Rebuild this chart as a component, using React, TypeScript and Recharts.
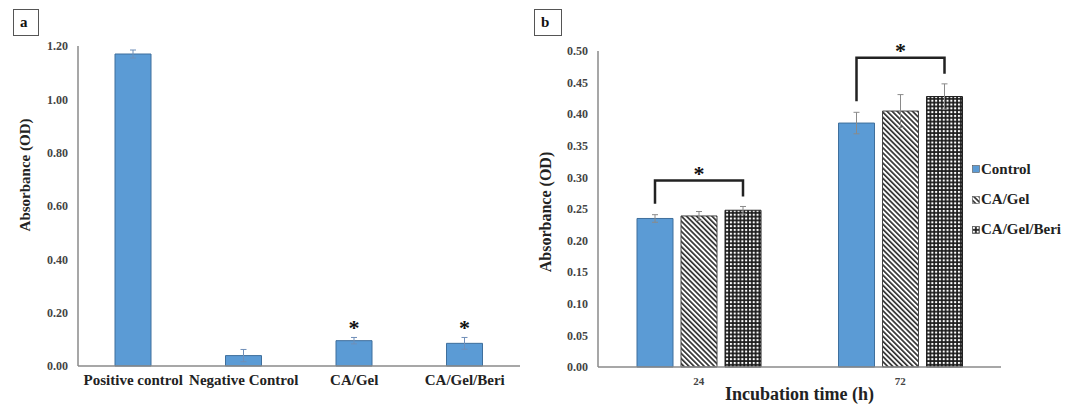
import { BarChart, Bar, XAxis, YAxis, ErrorBar, LabelList, Legend } from 'recharts';

// panel a
const groupsA = ['Positive control', 'Negative Control', 'CA/Gel', 'CA/Gel/Beri'];
const valuesA = [1.17, 0.039, 0.095, 0.085];
const errorsA = [0.015, 0.023, 0.012, 0.022];
const sigA = [false, false, true, true];
const ticksA = [0, 0.2, 0.4, 0.6, 0.8, 1.0, 1.2];

// panel b
const timesB = ['24', '72'];
const seriesB = ['Control', 'CA/Gel', 'CA/Gel/Beri'];
const controlB = [0.235, 0.386];
const caGelB = [0.239, 0.405];
const beriB = [0.248, 0.428];
const controlErrB = [0.006, 0.017];
const caGelErrB = [0.007, 0.026];
const beriErrB = [0.006, 0.02];
const sigB = [true, true];
const ticksB = [0, 0.05, 0.1, 0.15, 0.2, 0.25, 0.3, 0.35, 0.4, 0.45, 0.5];

const SERIF = "'Liberation Serif', 'Times New Roman', serif";
const BLUE = '#5b9bd5';
const BLUE_EDGE = '#3f6f9c';
const AXIS = '#8a8a8a';
const BAR_W = 36;
const BAR_GAP = 8;

const tickStyle = { fontSize: 12, fontWeight: 700, fill: '#444', fontFamily: SERIF };
const titleStyle = { fontSize: 15, fontWeight: 700, fill: '#222', fontFamily: SERIF };

const dataA = groupsA.map((name, i) => ({ name, value: valuesA[i], err: errorsA[i] }));
const dataB = timesB.map((time, i) => ({
  time,
  control: controlB[i],
  controlErr: controlErrB[i],
  caGel: caGelB[i],
  caGelErr: caGelErrB[i],
  beri: beriB[i],
  beriErr: beriErrB[i],
}));

function StarA(props: any) {
  const i = props.index;
  if (!sigA[i]) return null;
  const vb = props.viewBox || props;
  const { x, y, width, height } = vb;
  const k = height / valuesA[i];
  const errTop = y - errorsA[i] * k;
  return (
    <text x={x + width / 2} y={errTop - 12 + 10} textAnchor="middle" style={{ fontSize: 22, fontWeight: 700, fontFamily: SERIF, fill: '#111' }}>
      *
    </text>
  );
}

function BracketB(props: any) {
  const i = props.index;
  if (!sigB[i]) return null;
  const vb = props.viewBox || props;
  const { x, y, width, height } = vb;
  const k = height / caGelB[i];
  const base = y + height;
  const toY = (v: number) => base - v * k;
  const cx = x + width / 2;
  const lx = cx - (BAR_W + BAR_GAP);
  const rx = cx + (BAR_W + BAR_GAP);
  const leftEnd = toY(controlB[i] + controlErrB[i]) - 11;
  const rightEnd = toY(beriB[i] + beriErrB[i]) - 10;
  const highest = Math.max(controlB[i] + controlErrB[i], caGelB[i] + caGelErrB[i], beriB[i] + beriErrB[i]);
  const top = toY(highest) - 26;
  return (
    <g>
      <polyline points={`${lx},${leftEnd} ${lx},${top} ${rx},${top} ${rx},${rightEnd}`} fill="none" stroke="#222" strokeWidth={2.5} />
      <text x={cx} y={top - 9.5 + 10} textAnchor="middle" style={{ fontSize: 22, fontWeight: 700, fontFamily: SERIF, fill: '#111' }}>
        *
      </text>
    </g>
  );
}

function LegendB(props: any) {
  const items = [...(props.payload || [])].sort((a: any, b: any) => seriesB.indexOf(a.value) - seriesB.indexOf(b.value));
  return (
    <div style={{ fontFamily: SERIF }}>
      {items.map((it: any) => (
        <div key={it.value} style={{ display: 'flex', alignItems: 'center', height: 30.4 }}>
          <svg width={8} height={8} style={{ display: 'block' }}>
            <rect x={0.5} y={0.5} width={7} height={7} fill={it.color} stroke="#555" strokeWidth={0.6} />
          </svg>
          <span style={{ marginLeft: 1, fontSize: 15, fontWeight: 700, color: '#222' }}>{it.value}</span>
        </div>
      ))}
    </div>
  );
}

const boxStyle: any = {
  position: 'absolute',
  width: 26,
  height: 27,
  border: '1px solid #555',
  fontFamily: SERIF,
  fontWeight: 700,
  fontSize: 15,
  lineHeight: '25px',
  paddingLeft: 6,
  boxSizing: 'border-box',
  color: '#111',
};

export default function App() {
  return (
    <div style={{ position: 'absolute', left: 0, top: 0, width: 1077, height: 404, background: '#fff', overflow: 'hidden' }}>
      <div style={{ ...boxStyle, left: 13, top: 9 }}>a</div>
      <div style={{ ...boxStyle, left: 534, top: 9, width: 28 }}>b</div>

      <div style={{ position: 'absolute', left: 0, top: 0 }}>
        <BarChart width={530} height={404} data={dataA} margin={{ top: 46, right: 10, bottom: 8, left: 28 }}>
          <XAxis
            dataKey="name"
            interval={0}
            height={30}
            tickLine={false}
            axisLine={{ stroke: AXIS, strokeWidth: 1.5 }}
            tick={{ fontSize: 15, fontWeight: 700, fill: '#222', fontFamily: SERIF }}
          />
          <YAxis
            domain={[0, 1.2]}
            ticks={ticksA}
            tickFormatter={(v: number) => v.toFixed(2)}
            width={50}
            tickLine={false}
            tickMargin={4}
            axisLine={{ stroke: AXIS, strokeWidth: 1.5 }}
            tick={tickStyle}
            label={() => (
              <text x={25} y={175} transform="rotate(-90 25 175)" textAnchor="middle" dominantBaseline="central" style={titleStyle}>
                Absorbance (OD)
              </text>
            )}
          />
          <Bar dataKey="value" fill={BLUE} stroke={BLUE_EDGE} strokeWidth={1} barSize={BAR_W} isAnimationActive={false}>
            <ErrorBar dataKey="err" width={3} stroke="#6f8fb8" strokeWidth={1} direction="y" />
            <LabelList dataKey="value" content={StarA} />
          </Bar>
        </BarChart>
      </div>

      <div style={{ position: 'absolute', left: 520, top: 0 }}>
        <BarChart width={557} height={404} data={dataB} margin={{ top: 51, right: 76, bottom: 0, left: 28 }} barGap={BAR_GAP}>
          <defs>
            <pattern id="hatchB" width={3.6} height={3.6} patternUnits="userSpaceOnUse" patternTransform="rotate(-45)">
              <rect width={3.6} height={3.6} fill="#fff" />
              <rect width={1.7} height={3.6} fill="#333" />
            </pattern>
            <pattern id="gridB" width={3.8} height={3.8} patternUnits="userSpaceOnUse">
              <rect width={3.8} height={3.8} fill="#1a1a1a" />
              <rect x={0.9} y={0.9} width={2.1} height={2.1} fill="#fff" />
            </pattern>
          </defs>
          <XAxis
            dataKey="time"
            height={37}
            tickLine={false}
            tickMargin={4}
            axisLine={{ stroke: AXIS, strokeWidth: 1.5 }}
            tick={{ fontSize: 11, fontWeight: 700, fill: '#444', fontFamily: SERIF }}
            label={{ value: 'Incubation time (h)', position: 'insideBottom', offset: 4, style: { fontSize: 18, fontWeight: 700, fill: '#222', fontFamily: SERIF } }}
          />
          <YAxis
            domain={[0, 0.5]}
            ticks={ticksB}
            tickFormatter={(v: number) => v.toFixed(2)}
            width={50}
            tickLine={false}
            tickMargin={4}
            axisLine={{ stroke: AXIS, strokeWidth: 1.5 }}
            tick={tickStyle}
            label={() => (
              <text x={25} y={212} transform="rotate(-90 25 212)" textAnchor="middle" dominantBaseline="central" style={{ ...titleStyle, fontSize: 16 }}>
                Absorbance (OD)
              </text>
            )}
          />
          <Bar dataKey="control" name={seriesB[0]} fill={BLUE} stroke={BLUE_EDGE} strokeWidth={1} barSize={BAR_W} isAnimationActive={false}>
            <ErrorBar dataKey="controlErr" width={3} stroke="#8a8a8a" strokeWidth={1} direction="y" />
          </Bar>
          <Bar dataKey="caGel" name={seriesB[1]} fill="url(#hatchB)" stroke="#444" strokeWidth={1} barSize={BAR_W} isAnimationActive={false}>
            <ErrorBar dataKey="caGelErr" width={3} stroke="#8a8a8a" strokeWidth={1} direction="y" />
            <LabelList dataKey="caGel" content={BracketB} />
          </Bar>
          <Bar dataKey="beri" name={seriesB[2]} fill="url(#gridB)" stroke="#222" strokeWidth={1} barSize={BAR_W} isAnimationActive={false}>
            <ErrorBar dataKey="beriErr" width={3} stroke="#8a8a8a" strokeWidth={1} direction="y" />
          </Bar>
          <Legend
            layout="vertical"
            align="center"
            verticalAlign="middle"
            wrapperStyle={{ left: 452, top: 154, width: 110, height: 92 }}
            content={LegendB}
          />
        </BarChart>
      </div>
    </div>
  );
}
